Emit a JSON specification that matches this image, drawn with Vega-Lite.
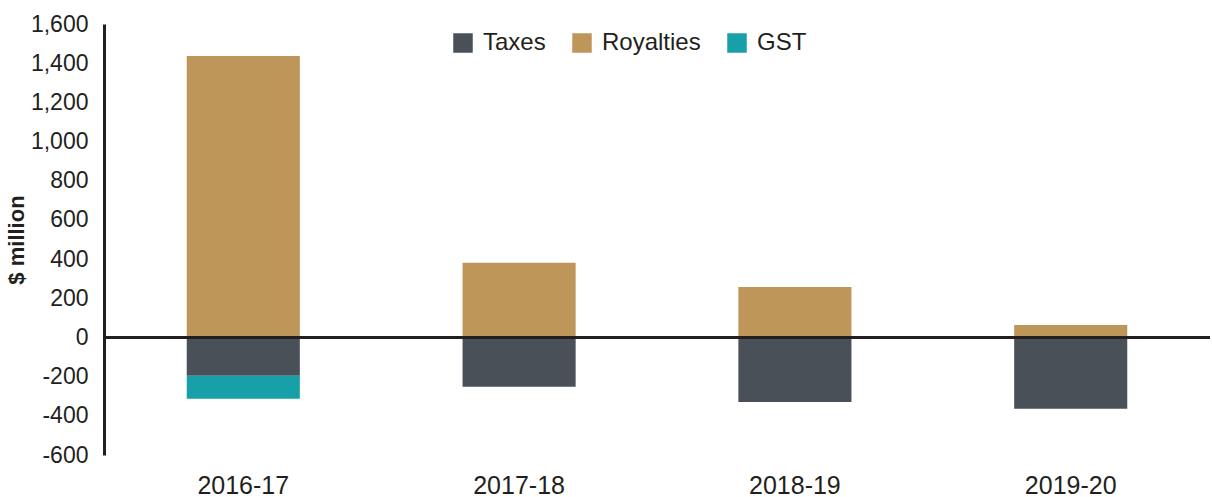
{
  "$schema": "https://vega.github.io/schema/vega-lite/v6.json",
  "width": 1106,
  "height": 431,
  "autosize": {"type": "none"},
  "padding": {"left": 104, "top": 24, "right": 2, "bottom": 42},
  "background": "white",
  "config": {
    "view": {"stroke": null},
    "font": "Liberation Sans",
    "axis": {"labelOverlap": false}
  },
  "data": {
    "values": [
      {"year": "2016-17", "type": "Taxes", "value": -195, "ord": 0},
      {"year": "2016-17", "type": "Royalties", "value": 1437, "ord": 1},
      {"year": "2016-17", "type": "GST", "value": -118, "ord": 2},
      {"year": "2017-18", "type": "Taxes", "value": -252, "ord": 0},
      {"year": "2017-18", "type": "Royalties", "value": 381, "ord": 1},
      {"year": "2018-19", "type": "Taxes", "value": -329, "ord": 0},
      {"year": "2018-19", "type": "Royalties", "value": 258, "ord": 1},
      {"year": "2019-20", "type": "Taxes", "value": -364, "ord": 0},
      {"year": "2019-20", "type": "Royalties", "value": 64, "ord": 1}
    ]
  },
  "layer": [
    {
      "mark": {"type": "bar"},
      "encoding": {
        "x": {
          "field": "year", "type": "nominal",
          "scale": {"paddingInner": 0.59, "paddingOuter": 0.3},
          "axis": {"title": null, "labelAngle": 0, "labelFontSize": 25, "labelColor": "#231f20", "domain": false, "ticks": false, "labelPadding": 18, "orient": "bottom"}
        },
        "y": {
          "field": "value", "type": "quantitative", "stack": "zero",
          "scale": {"domain": [-600, 1600], "nice": false},
          "axis": {"title": "$ million", "titleFontSize": 22, "titleFontWeight": "bold", "titleColor": "#231f20", "titlePadding": 2, "values": [-600,-400,-200,0,200,400,600,800,1000,1200,1400,1600], "format": ",d", "labelExpr": "replace(datum.label, '\u2212', '-')", "labelOverlap": false, "labelSeparation": 0, "labelFontSize": 23, "labelColor": "#231f20", "grid": false, "ticks": false, "labelPadding": 16, "domainColor": "#231f20", "domainWidth": 3}
        },
        "color": {
          "field": "type", "type": "nominal",
          "scale": {"domain": ["Taxes", "Royalties", "GST"], "range": ["#4a5058", "#be965a", "#17a0a8"]},
          "legend": {"title": null, "orient": "none", "legendX": 347, "legendY": 7, "direction": "horizontal", "symbolType": "square", "symbolSize": 380, "symbolStrokeWidth": 0, "labelFontSize": 24, "labelColor": "#231f20", "columnPadding": 24, "labelOffset": 8}
        },
        "order": {"field": "ord", "type": "quantitative"}
      }
    },
    {
      "mark": {"type": "rule", "color": "#231f20", "strokeWidth": 3},
      "encoding": {"y": {"datum": 0, "type": "quantitative",
        "axis": {"title": "$ million", "titleFontSize": 22, "titleFontWeight": "bold", "titleColor": "#231f20", "titlePadding": 2, "values": [-600,-400,-200,0,200,400,600,800,1000,1200,1400,1600], "format": ",d", "labelExpr": "replace(datum.label, '\u2212', '-')", "labelOverlap": false, "labelSeparation": 0, "labelFontSize": 23, "labelColor": "#231f20", "grid": false, "ticks": false, "labelPadding": 16, "domainColor": "#231f20", "domainWidth": 3}}}
    }
  ]
}
